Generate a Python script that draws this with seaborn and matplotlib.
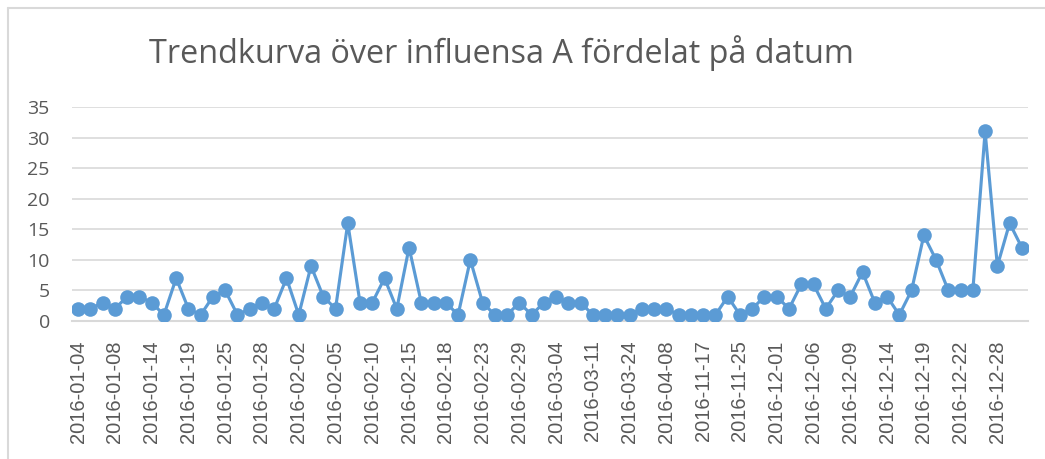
import matplotlib
matplotlib.use("Agg")
import matplotlib.pyplot as plt
import seaborn as sns
import numpy as np
import pandas as pd
from matplotlib.lines import Line2D

# Tick labels shown on the x axis (every third category)
tick_labels = ["2016-01-04", "2016-01-08", "2016-01-14", "2016-01-19", "2016-01-25",
               "2016-01-28", "2016-02-02", "2016-02-05", "2016-02-10", "2016-02-15",
               "2016-02-18", "2016-02-23", "2016-02-29", "2016-03-04", "2016-03-11",
               "2016-03-24", "2016-04-08", "2016-11-17", "2016-11-25", "2016-12-01",
               "2016-12-06", "2016-12-09", "2016-12-14", "2016-12-19", "2016-12-22",
               "2016-12-28"]

# Counts per date (78 dates)
values = [2, 2, 3, 2, 4, 4, 3, 1, 7, 2, 1, 4, 5, 1, 2, 3, 2, 7, 1, 9,
          4, 2, 16, 3, 3, 7, 2, 12, 3, 3, 3, 1, 10, 3, 1, 1, 3, 1, 3, 4,
          3, 3, 1, 1, 1, 1, 2, 2, 2, 1, 1, 1, 1, 4, 1, 2, 4, 4, 2, 6,
          6, 2, 5, 4, 8, 3, 4, 1, 5, 14, 10, 5, 5, 5, 31, 9, 16, 12]

title = "Trendkurva över influensa A fördelat på datum"

sns.set_theme(style="white")
plt.rcParams['font.family'] = ['Open Sans', 'DejaVu Sans']

df = pd.DataFrame({"pos": np.arange(len(values)), "antal": values})

fig = plt.figure(figsize=(10.45, 4.59), dpi=100)
ax = fig.add_axes([72/1045, 1 - 321/459, (1028-72)/1045, (321-107)/459])

grey_text = "#595959"
grid_col = "#D9D9D9"

sns.lineplot(data=df, x="pos", y="antal", ax=ax, color="#5B9BD5", linewidth=2.25,
             marker="o", markersize=10.5, markeredgewidth=0, zorder=3)

ax.set_xlim(-0.5, len(values) - 0.5)
ax.set_ylim(0, 35)
ax.set_yticks(np.arange(0, 36, 5))
ax.set_xticks(np.arange(0, len(values), 3))
ax.set_xticklabels(tick_labels, rotation=90, family=['Liberation Sans', 'DejaVu Sans'])
ax.tick_params(axis='x', labelsize=14.5, colors=grey_text, length=0, pad=14)
ax.tick_params(axis='y', labelsize=14, colors=grey_text, length=0, pad=16)
ax.set_xlabel("")
ax.set_ylabel("")
ax.grid(axis='y', color=grid_col, linewidth=1.2)
ax.set_axisbelow(True)
for s in ["top", "right", "left"]:
    ax.spines[s].set_visible(False)
ax.spines["bottom"].set_color(grid_col)
ax.spines["bottom"].set_linewidth(1.5)
ax.spines["bottom"].set_zorder(1)

fig.text(501/1045, 1 - 63/459, title, ha="center", va="baseline",
         fontsize=23.3, color=grey_text, family=['Open Sans', 'DejaVu Sans'])

# chart frame (partially visible in the reference)
fig.add_artist(Line2D([8/1045, 8/1045], [0, 1 - 8/459], color=grid_col, linewidth=1.5,
                      transform=fig.transFigure))
fig.add_artist(Line2D([8/1045, 1], [1 - 8/459, 1 - 8/459], color=grid_col, linewidth=1.5,
                      transform=fig.transFigure))

fig.savefig("out.png", dpi=100)
